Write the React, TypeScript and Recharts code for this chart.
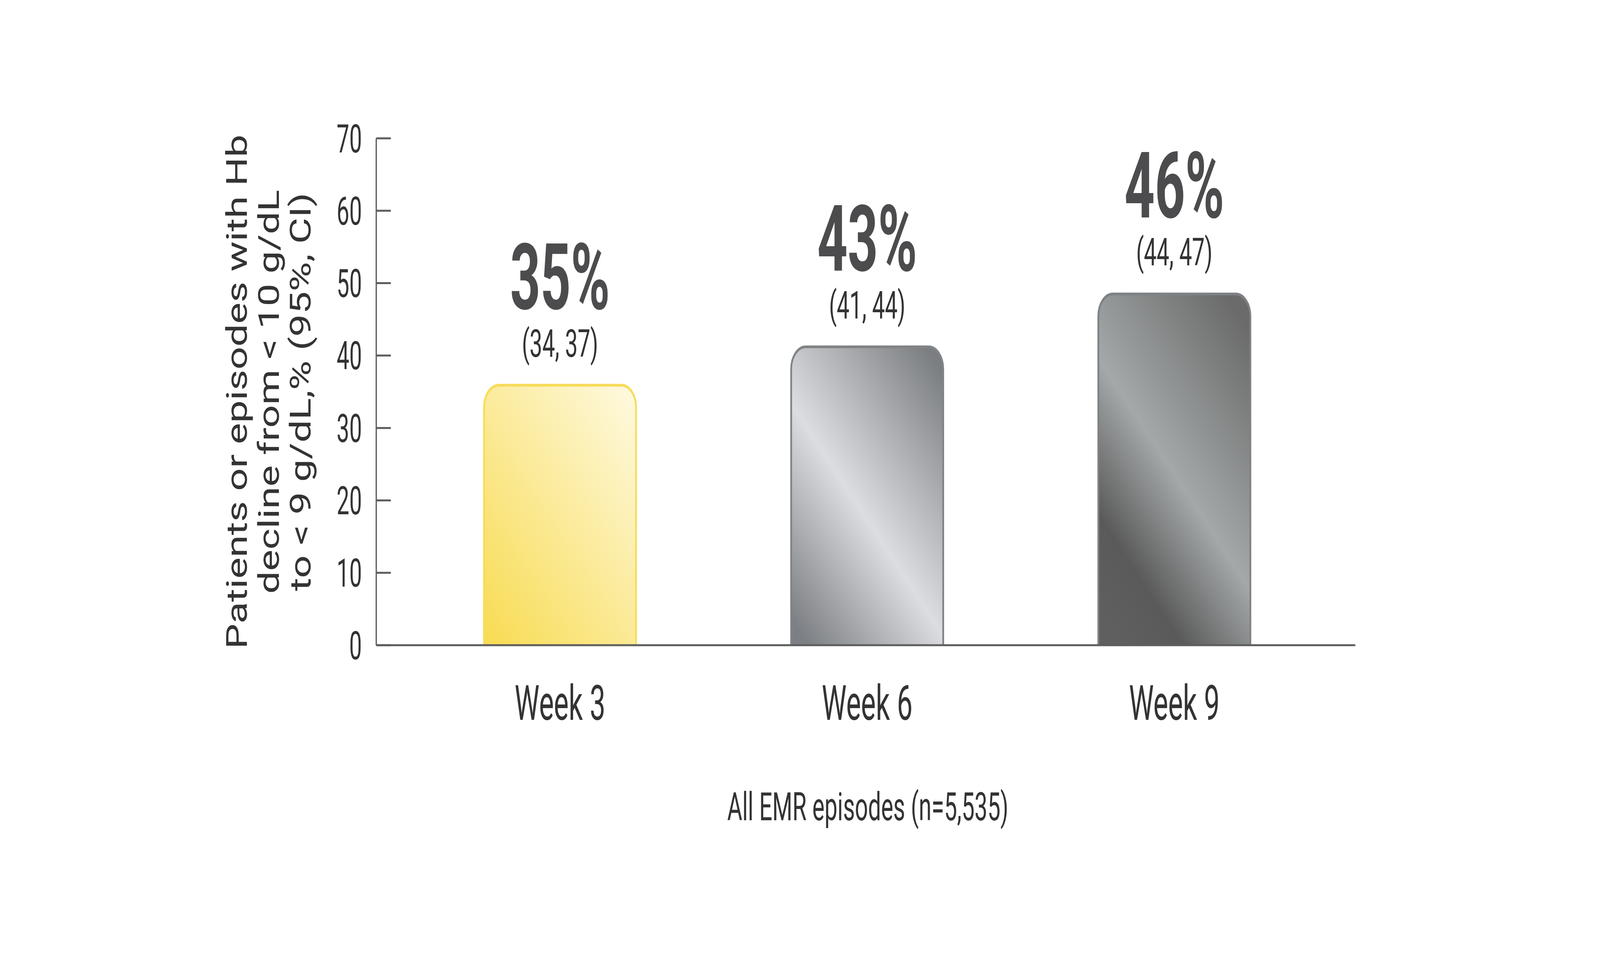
import React from 'react';
import { BarChart, Bar, XAxis, YAxis, LabelList, Cell } from 'recharts';

// chart data
const weeks = ['Week 3', 'Week 6', 'Week 9'];
const barHeights = [35.9, 41.2, 48.5];
const pctLabels = ['35%', '43%', '46%'];
const ciLabels = ['(34, 37)', '(41, 44)', '(44, 47)'];
const yTicks = [0, 10, 20, 30, 40, 50, 60, 70];
const yTitleLines = ['Patients or episodes with Hb', 'decline from < 10 g/dL', 'to < 9 g/dL,% (95%, CI)'];
const xTitle = 'All EMR episodes (n=5,535)';

const data = weeks.map((week, i) => ({ week, value: barHeights[i] }));

const REF_W = 6251;
const REF_H = 2454;
const FONT = 'Roboto, "Noto Sans", sans-serif';
const TEXT = '#333333';
const AXIS = '#5d5d5d';
const barStrokes = ['#f7dc5a', '#818487', '#7e8185'];

function YTick({ x, y, payload }: any) {
  return (
    <g>
      <line x1={x} x2={x + 57} y1={y} y2={y} stroke={AXIS} strokeWidth={5} />
      <text
        transform={`translate(${x - 56},${y}) scale(0.88,1)`}
        textAnchor="end"
        dy="0.355em"
        fontSize={100}
        fill={TEXT}
        fontFamily={FONT}
      >
        {payload.value}
      </text>
    </g>
  );
}

function XTick({ x, y, payload }: any) {
  return (
    <text
      transform={`translate(${x},${y + 191}) scale(0.88,1)`}
      textAnchor="middle"
      fontSize={124}
      fill={TEXT}
      fontFamily={FONT}
    >
      {payload.value}
    </text>
  );
}

function YTitle({ viewBox }: any) {
  const axisX = viewBox.x + viewBox.width;
  const cy = viewBox.y + viewBox.height / 2;
  return (
    <g>
      {yTitleLines.map((line, i) => (
        <text
          key={line}
          transform={`translate(${axisX - 506 + i * 125},${cy}) rotate(-90) scale(0.906,1)`}
          textAnchor="middle"
          fontSize={114}
          fill={TEXT}
          fontFamily={FONT}
        >
          {line}
        </text>
      ))}
    </g>
  );
}

function XTitle({ viewBox }: any) {
  return (
    <text
      transform={`translate(${viewBox.x + viewBox.width / 2 + 8},${viewBox.y + 448}) scale(0.9,1)`}
      textAnchor="middle"
      fontSize={100}
      fill={TEXT}
      fontFamily={FONT}
    >
      {xTitle}
    </text>
  );
}

function BarLabel({ x, y, width, index }: any) {
  const cx = x + width / 2;
  return (
    <g>
      <text
        transform={`translate(${cx},${y - 195}) scale(0.88,1)`}
        textAnchor="middle"
        fontSize={235}
        fontWeight={700}
        fill="#4c4c4e"
        fontFamily={FONT}
      >
        {pctLabels[index]}
      </text>
      <text
        transform={`translate(${cx},${y - 73}) scale(0.9,1)`}
        textAnchor="middle"
        fontSize={98}
        fill={TEXT}
        fontFamily={FONT}
      >
        {ciLabels[index]}
      </text>
    </g>
  );
}

// rounded top, open bottom so the axis line sits cleanly on the bar foot
function RoundedBar({ x, y, width, height, index }: any) {
  const r = Math.min(57, width / 2, height);
  const b = y + height;
  const outline = `M${x},${b} L${x},${y + r} A${r},${r} 0 0 1 ${x + r},${y} L${x + width - r},${y} A${r},${r} 0 0 1 ${x + width},${y + r} L${x + width},${b}`;
  return (
    <g>
      <path d={`${outline} Z`} fill={`url(#barGrad${index})`} stroke="none" />
      <path d={outline} fill="none" stroke={barStrokes[index]} strokeWidth={7} />
    </g>
  );
}

export default function App() {
  // the window may come up smaller than asked for; fit the full layout into it
  const vw = window.innerWidth || REF_W;
  const vh = window.innerHeight || REF_H;
  const sx = vw / REF_W;
  const sy = vh / REF_H;

  return (
    <div style={{ position: 'fixed', left: 0, top: 0, width: vw, height: vh, overflow: 'hidden', background: '#fff' }}>
      <div style={{ width: REF_W, height: REF_H, transform: `scale(${sx},${sy})`, transformOrigin: '0 0' }}>
        <BarChart
          width={REF_W}
          height={REF_H}
          data={data}
          margin={{ top: 354, right: 956, bottom: 503, left: 1270 }}
        >
          <defs>
            <linearGradient id="barGrad0" x1="0.048" y1="1" x2="0.952" y2="0">
              <stop offset="0" stopColor="#f8dc55" />
              <stop offset="1" stopColor="#fef9de" />
            </linearGradient>
            <linearGradient id="barGrad1" x1="0.11" y1="1" x2="0.89" y2="0">
              <stop offset="0" stopColor="#7c7f83" />
              <stop offset="0.45" stopColor="#dcdde0" />
              <stop offset="1" stopColor="#7b7e81" />
            </linearGradient>
            <linearGradient id="barGrad2" x1="0.17" y1="1" x2="0.83" y2="0">
              <stop offset="0" stopColor="#5f5f5f" />
              <stop offset="0.18" stopColor="#5a5a5a" />
              <stop offset="0.49" stopColor="#a4a8a9" />
              <stop offset="1" stopColor="#6a6b6a" />
            </linearGradient>
          </defs>
          <XAxis
            dataKey="week"
            height={300}
            padding={{ left: 118, right: 107 }}
            axisLine={{ stroke: AXIS, strokeWidth: 5 }}
            tickLine={false}
            tickSize={0}
            tickMargin={0}
            tick={<XTick />}
            interval={0}
            label={<XTitle />}
          />
          <YAxis
            width={200}
            domain={[0, 70]}
            ticks={yTicks}
            interval={0}
            axisLine={{ stroke: AXIS, strokeWidth: 5 }}
            tickLine={false}
            tickSize={0}
            tickMargin={0}
            tick={<YTick />}
            label={<YTitle />}
          />
          <Bar dataKey="value" barSize={594} isAnimationActive={false} shape={<RoundedBar />}>
            {data.map((d, i) => (
              <Cell key={d.week} fill={`url(#barGrad${i})`} stroke={barStrokes[i]} />
            ))}
            <LabelList dataKey="value" content={<BarLabel />} />
          </Bar>
        </BarChart>
      </div>
    </div>
  );
}
